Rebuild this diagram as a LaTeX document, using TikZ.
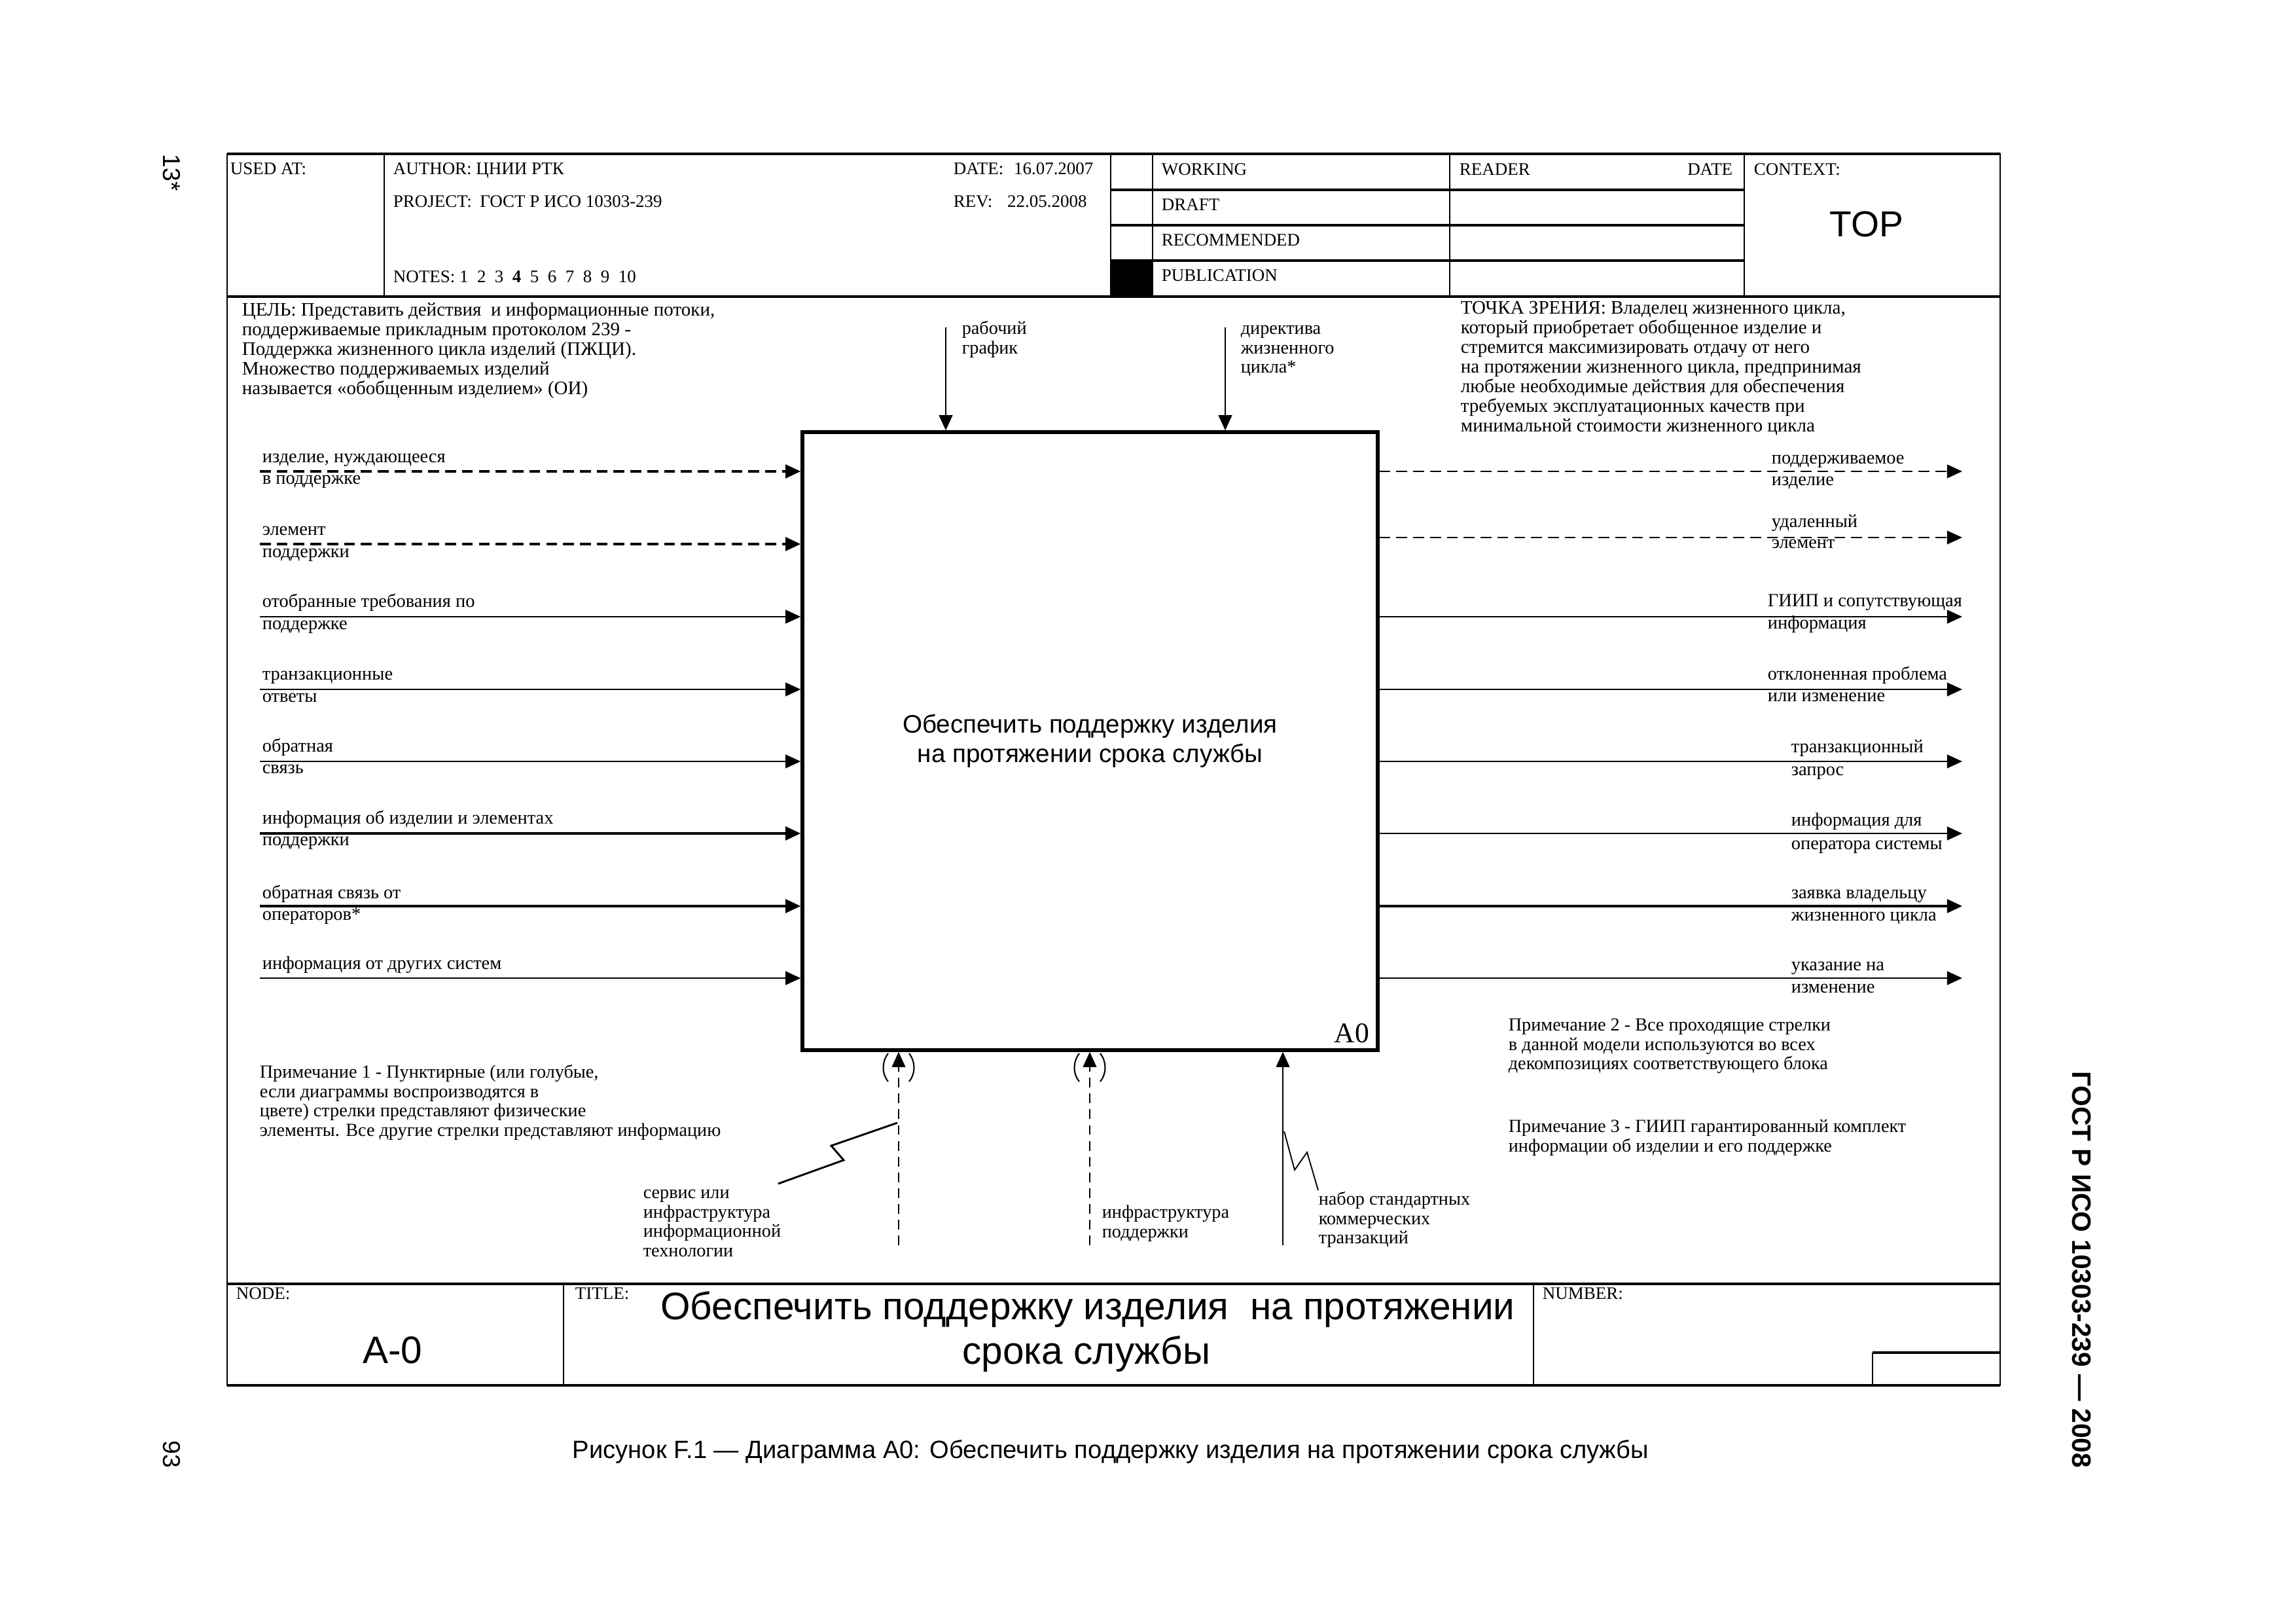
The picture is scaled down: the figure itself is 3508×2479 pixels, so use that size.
\documentclass[tikz,border=0pt]{standalone}
\usepackage{fontspec}
\setmainfont{Liberation Serif}
\newfontfamily\arialfont{Liberation Sans}
\usetikzlibrary{arrows.meta, positioning, fit, calc}

\begin{document}
\begin{tikzpicture}[
  x=0.084664mm, y=-0.084664mm,
  txt/.style={font=\fontsize{6.5}{7.14}\selectfont, inner sep=0pt},
  lbl/.style={txt, anchor=base west},
  arrlbl/.style={lbl, font=\fontsize{6.85}{7.14}\selectfont},
  note/.style={txt, align=left, anchor=north west, font=\fontsize{6.8}{7.14}\selectfont},
  bignote/.style={note, font=\fontsize{7}{7.2}\selectfont},
  thinline/.style={line width=0.45pt},
  thickline/.style={line width=1pt},
  actbox/.style={draw, line width=1.3pt, inner sep=0pt},
  boxtext/.style={align=center, inner sep=0pt, font=\arialfont\fontsize{9.3}{10.8}\selectfont},
  flow/.style={line width=0.6pt, -{Triangle[length=5.6pt,width=5pt]}},
  heavyflow/.style={flow, line width=0.85pt},
  dflow/.style={flow, dash pattern=on 4pt off 2.2pt},
  mflow/.style={line width=0.45pt, -{Triangle[length=5.6pt,width=5pt]}},
  dmflow/.style={mflow, dash pattern=on 3.6pt off 2.2pt},
  paren/.style={line width=0.5pt},
  squig/.style={line width=0.7pt},
  bigsans/.style={font=\arialfont\fontsize{14.1}{16.3}\selectfont, inner sep=0pt}
]
\useasboundingbox (0,0) rectangle (3508,2479);

% frame and form lines
\draw[thinline] (347,235) rectangle (3056,2116);
\draw[thickline] (347,235) -- (3056,235);
\draw[thickline] (347,453) -- (3056,453);
\draw[thickline] (347,1961) -- (3056,1961);
\draw[thickline] (347,2116) -- (3056,2116);
\draw[thinline] (587,235) -- (587,453);
\draw[thinline] (1697,235) -- (1697,453);
\draw[thinline] (1761,235) -- (1761,453);
\draw[thinline] (2215,235) -- (2215,453);
\draw[thinline] (2665,235) -- (2665,453);
\draw[thickline] (1697,290) -- (2665,290);
\draw[thickline] (1697,344) -- (2665,344);
\draw[thickline] (1697,398) -- (2665,398);
\fill (1697,398) rectangle (1761,453);
\draw[thinline] (861,1961) -- (861,2116);
\draw[thinline] (2343,1961) -- (2343,2116);
\draw[thinline] (2861,2066) -- (2861,2116);
\draw[thickline] (2861,2066) -- (3056,2066);

% header
\node[lbl] (usedat) at (351,267) {USED AT:};
\node[lbl] (author) at (600,267) {AUTHOR: ЦНИИ РТК};
\node[lbl] (date) at (1456,267) {DATE:\hspace{3.8pt}16.07.2007};
\node[lbl] (project) at (600,317) {PROJECT:\hspace{3pt}ГОСТ Р ИСО 10303-239};
\node[lbl] (rev) at (1456,317) {REV:\hspace{5.5pt}22.05.2008};
\node[lbl] (notes) at (600,432) {NOTES:\ 1\ \ 2\ \ 3\ \ \textbf{4}\ \ 5\ \ 6\ \ 7\ \ 8\ \ 9\ \ 10};
\node[lbl] (working) at (1774,268) {WORKING};
\node[lbl] (draft) at (1774,322) {DRAFT};
\node[lbl] (recom) at (1774,376) {RECOMMENDED};
\node[lbl] (publ) at (1774,430) {PUBLICATION};
\node[lbl] (reader) at (2229,268) {READER};
\node[txt, anchor=base east] (readdate) at (2648,268) {DATE};
\node[lbl] (context) at (2679,268) {CONTEXT:};
\node[font=\arialfont\fontsize{13.3}{15}\selectfont, inner sep=0pt, anchor=base] (top) at (2852,362) {TOP};

% purpose and viewpoint
\node[bignote] (goal) at (369,461) {\strut ЦЕЛЬ: Представить действия\ \ и информационные потоки,\\
  поддерживаемые прикладным протоколом 239 -\\
  Поддержка жизненного цикла изделий (ПЖЦИ).\\
  Множество поддерживаемых изделий\\
  называется «обобщенным изделием» (ОИ)};
\node[bignote] (viewpt) at (2231,458) {\strut ТОЧКА ЗРЕНИЯ: Владелец жизненного цикла,\\
  который приобретает обобщенное изделие и\\
  стремится максимизировать отдачу от него\\
  на протяжении жизненного цикла, предпринимая\\
  любые необходимые действия для обеспечения\\
  требуемых эксплуатационных качеств при\\
  минимальной стоимости жизненного цикла};

% activity box
\coordinate (boxnw) at (1226,660);
\coordinate (boxse) at (2105,1604);
\node[actbox, fit=(boxnw)(boxse)] (box) {};
\node[boxtext] (boxtxt) at (box.center) {Обеспечить поддержку изделия\\на протяжении срока службы};
\node[font=\fontsize{10.5}{12}\selectfont, inner sep=0pt, anchor=base east] (boxid) at (2093,1592) {A0};

% controls
\coordinate (ctl1) at (1445,500);
\coordinate (ctl2) at (1872,500);
\draw[flow] (ctl1) -- (ctl1 |- box.north);
\draw[flow] (ctl2) -- (ctl2 |- box.north);
\node[note] (ctl1lbl) at (1469,489) {\strut рабочий\\график};
\node[note] (ctl2lbl) at (1895,489) {\strut директива\\жизненного\\цикла*};

% inputs
\coordinate (in1) at (397,720);
\coordinate (in2) at (397,831);
\coordinate (in3) at (397,942);
\coordinate (in4) at (397,1053);
\coordinate (in5) at (397,1163);
\coordinate (in6) at (397,1273);
\coordinate (in7) at (397,1384);
\coordinate (in8) at (397,1494);
\draw[dflow, line width=0.85pt] (in1) -- (in1 -| box.west);
\draw[dflow, line width=0.85pt] (in2) -- (in2 -| box.west);
\draw[flow] (in3) -- (in3 -| box.west);
\draw[flow] (in4) -- (in4 -| box.west);
\draw[flow] (in5) -- (in5 -| box.west);
\draw[heavyflow] (in6) -- (in6 -| box.west);
\draw[heavyflow] (in7) -- (in7 -| box.west);
\draw[flow] (in8) -- (in8 -| box.west);
\node[arrlbl] (in1a) at (400,707) {изделие, нуждающееся};
\node[arrlbl] (in1b) at (400,740) {в поддержке};
\node[arrlbl] (in2a) at (400,818) {элемент};
\node[arrlbl] (in2b) at (400,852) {поддержки};
\node[arrlbl] (in3a) at (400,928) {отобранные требования по};
\node[arrlbl] (in3b) at (400,962) {поддержке};
\node[arrlbl] (in4a) at (400,1039) {транзакционные};
\node[arrlbl] (in4b) at (400,1073) {ответы};
\node[arrlbl] (in5a) at (400,1149) {обратная};
\node[arrlbl] (in5b) at (400,1182) {связь};
\node[arrlbl] (in6a) at (400,1259) {информация об изделии и элементах};
\node[arrlbl] (in6b) at (400,1292) {поддержки};
\node[arrlbl] (in7a) at (400,1372) {обратная связь от};
\node[arrlbl] (in7b) at (400,1406) {операторов*};
\node[arrlbl] (in8a) at (400,1480) {информация от других систем};

% outputs
\coordinate (out1) at (2998,720);
\coordinate (out2) at (2998,821);
\coordinate (out3) at (2998,942);
\coordinate (out4) at (2998,1053);
\coordinate (out5) at (2998,1163);
\coordinate (out6) at (2998,1273);
\coordinate (out7) at (2998,1384);
\coordinate (out8) at (2998,1494);
\draw[dflow] (out1 -| box.east) -- (out1);
\draw[dflow, line width=0.5pt] (out2 -| box.east) -- (out2);
\draw[flow] (out3 -| box.east) -- (out3);
\draw[flow] (out4 -| box.east) -- (out4);
\draw[flow] (out5 -| box.east) -- (out5);
\draw[flow] (out6 -| box.east) -- (out6);
\draw[heavyflow] (out7 -| box.east) -- (out7);
\draw[flow] (out8 -| box.east) -- (out8);
\node[arrlbl] (out1a) at (2706,709) {поддерживаемое};
\node[arrlbl] (out1b) at (2706,742) {изделие};
\node[arrlbl] (out2a) at (2706,806) {удаленный};
\node[arrlbl] (out2b) at (2706,838) {элемент};
\node[arrlbl] (out3a) at (2700,927) {ГИИП и сопутствующая};
\node[arrlbl] (out3b) at (2700,961) {информация};
\node[arrlbl] (out4a) at (2700,1039) {отклоненная проблема};
\node[arrlbl] (out4b) at (2700,1072) {или изменение};
\node[arrlbl] (out5a) at (2736,1150) {транзакционный};
\node[arrlbl] (out5b) at (2736,1185) {запрос};
\node[arrlbl] (out6a) at (2736,1262) {информация для};
\node[arrlbl] (out6b) at (2736,1298) {оператора системы};
\node[arrlbl] (out7a) at (2736,1372) {заявка владельцу};
\node[arrlbl] (out7b) at (2736,1407) {жизненного цикла};
\node[arrlbl] (out8a) at (2736,1482) {указание на};
\node[arrlbl] (out8b) at (2736,1516) {изменение};

% mechanisms
\coordinate (mech1) at (1373,1902);
\coordinate (mech2) at (1665,1902);
\coordinate (mech3) at (1960,1902);
\draw[dmflow] (mech1) -- (mech1 |- box.south);
\draw[dmflow] (mech2) -- (mech2 |- box.south);
\draw[mflow] (mech3) -- (mech3 |- box.south);
\draw[paren] (1357,1609) .. controls (1347,1622) and (1347,1640) .. (1357,1652);
\draw[paren] (1389,1609) .. controls (1399,1622) and (1399,1640) .. (1389,1652);
\draw[paren] (1649,1609) .. controls (1639,1622) and (1639,1640) .. (1649,1652);
\draw[paren] (1681,1609) .. controls (1691,1622) and (1691,1640) .. (1681,1652);
\coordinate (sq1a) at (1189,1808);
\coordinate (sq1b) at (1371,1715);
\draw[squig] (sq1a) -- (1289,1772) -- (1270,1750) -- (sq1b);
\coordinate (sq3a) at (1962,1728);
\coordinate (sq3b) at (2014,1818);
\draw[thinline] (sq3a) -- (1978,1787) -- (1997,1760) -- (sq3b);
\node[note] (mech1lbl) at (982,1809) {\strut сервис или\\инфраструктура\\информационной\\технологии};
\node[note] (mech2lbl) at (1683,1839) {\strut инфраструктура\\поддержки};
\node[note] (mech3lbl) at (2014,1819) {\strut набор стандартных\\коммерческих\\транзакций};

% notes
\node[note] (note1) at (396,1625) {\strut Примечание 1 - Пунктирные (или голубые,\\
  если диаграммы воспроизводятся в\\
  цвете) стрелки представляют физические\\
  элементы. Все другие стрелки представляют информацию};
\node[note] (note2) at (2304,1553) {\strut Примечание 2 - Все проходящие стрелки\\
  в данной модели используются во всех\\
  декомпозициях соответствующего блока};
\node[note] (note3) at (2304,1708) {\strut Примечание 3 - ГИИП гарантированный комплект\\
  информации об изделии и его поддержке};

% title block
\node[lbl] (nodelbl) at (360,1984) {NODE:};
\node[lbl] (titlelbl) at (878,1984) {TITLE:};
\node[lbl] (numberlbl) at (2356,1984) {NUMBER:};
\node[bigsans, anchor=base] (nodeid) at (600,2082) {A-0};
\node[bigsans, anchor=base] (title1) at (1662,2015) {Обеспечить поддержку изделия\ \ на протяжении};
\node[bigsans, anchor=base] (title2) at (1660,2083) {срока службы};

% page texts
\node[font=\arialfont\fontsize{9.2}{11}\selectfont, inner sep=0pt, anchor=base] (caption) at (1697,2227)
  {Рисунок F.1 — Диаграмма А0: Обеспечить поддержку изделия на протяжении срока службы};
\node[font=\arialfont\bfseries\fontsize{9.8}{11}\selectfont, inner sep=0pt, rotate=-90] (gost) at (3180,1939)
  {ГОСТ Р ИСО 10303-239 — 2008};
\node[font=\arialfont\fontsize{9}{10}\selectfont, inner sep=0pt, rotate=-90] (pagestar) at (262,264) {13*};
\node[font=\arialfont\fontsize{9}{10}\selectfont, inner sep=0pt, rotate=-90] (pagenum) at (262,2221) {93};
\end{tikzpicture}
\end{document}
